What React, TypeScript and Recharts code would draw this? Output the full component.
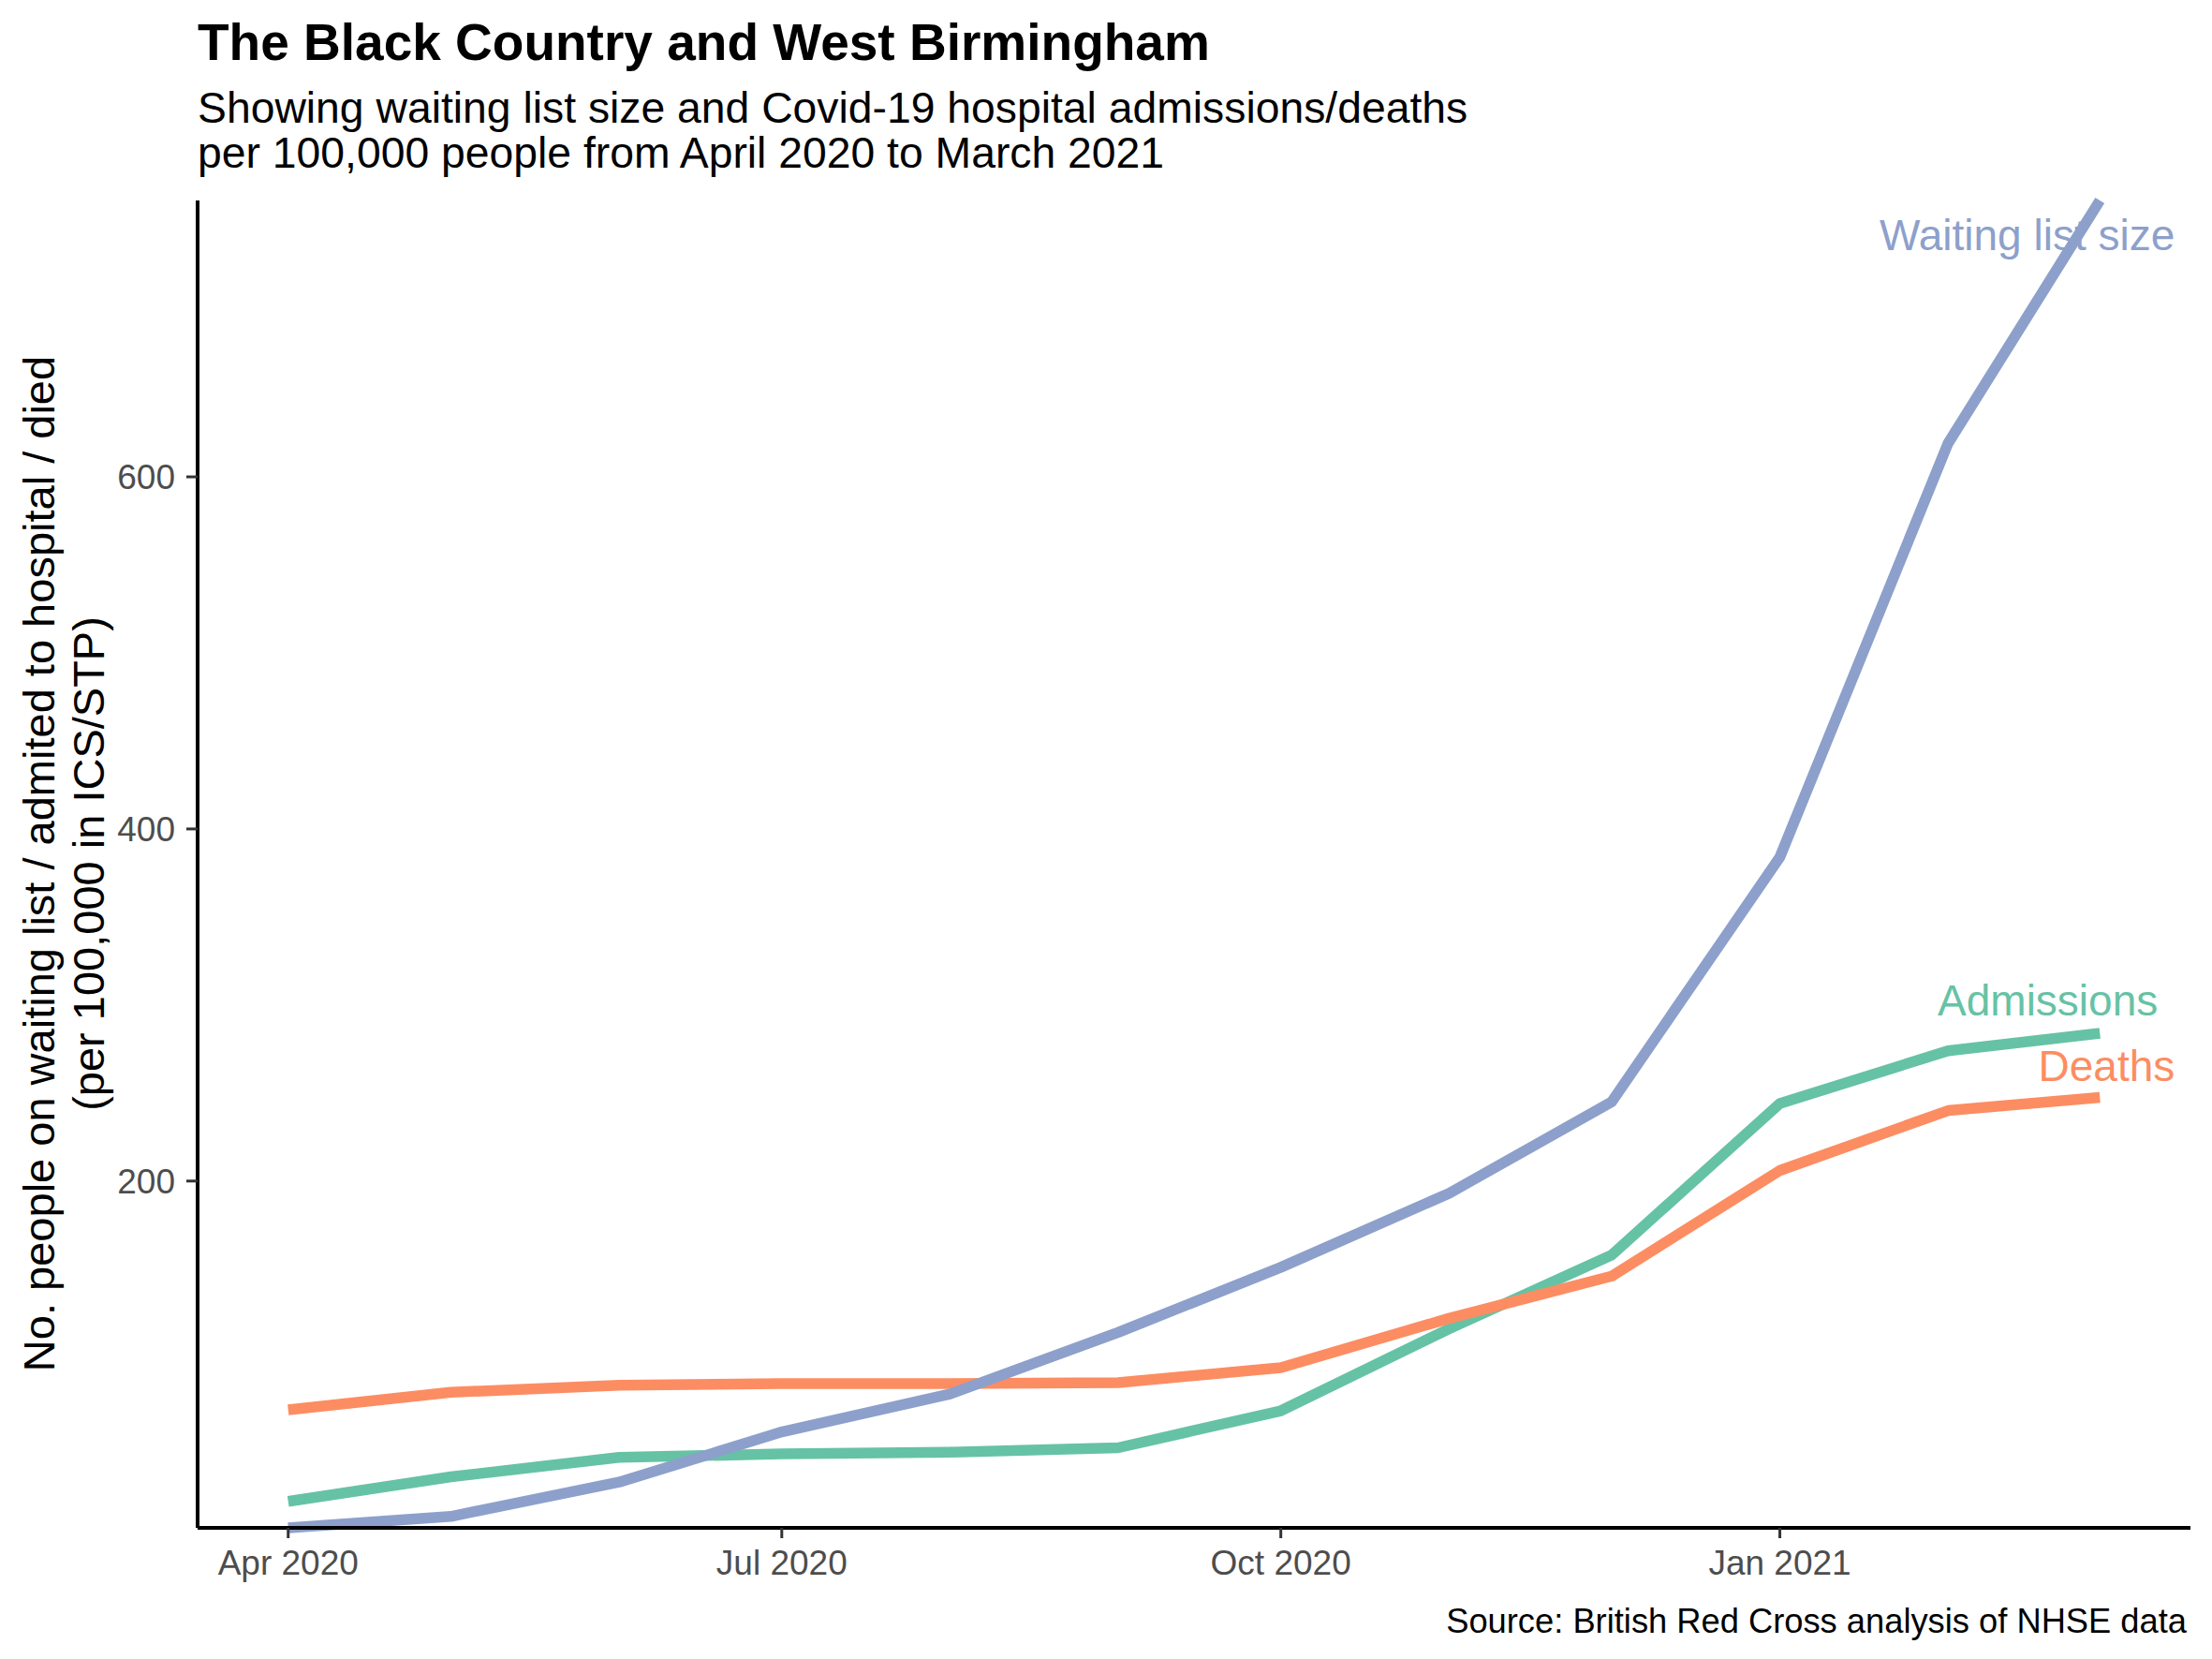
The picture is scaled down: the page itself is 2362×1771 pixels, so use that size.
import React from 'react'
import { LineChart, Line, XAxis, YAxis, LabelList } from 'recharts'

// monthly points, first of each month
const months = [
  '2020-04-01', '2020-05-01', '2020-06-01', '2020-07-01', '2020-08-01', '2020-09-01',
  '2020-10-01', '2020-11-01', '2020-12-01', '2021-01-01', '2021-02-01', '2021-03-01',
]
const waitingList = [3, 9.5, 29, 57.5, 79, 114, 151, 193, 245, 384, 619, 757]
const admissions = [18, 32, 43, 45, 46, 48.5, 69.5, 116, 158, 244, 274, 284]
const deaths = [70, 80, 84, 85, 85, 85.5, 94, 122, 146, 206, 240, 247.5]

const tickDates = ['2020-04-01', '2020-07-01', '2020-10-01', '2021-01-01']
const tickLabels = ['Apr 2020', 'Jul 2020', 'Oct 2020', 'Jan 2021']
const yTicks = [200, 400, 600]

const FONT = '"Liberation Sans", Arial, sans-serif'
const GREEN = '#66C2A5'
const ORANGE = '#FC8D62'
const BLUE = '#8DA0CB'

const DAY = 86400000
const toDay = (d: string) => Math.round((Date.parse(d) - Date.parse(months[0])) / DAY)

const data = months.map((m, i) => ({
  day: toDay(m),
  waiting: waitingList[i],
  admissions: admissions[i],
  deaths: deaths[i],
}))

const span = toDay(months[months.length - 1])
const xDomain = [-span * 0.05, span * 1.05]
const xTicks = tickDates.map(toDay)

// label only the last point of a series
const endLabel = (text: string, color: string, dx: number, dy: number) => (props: any) => {
  if (props.index !== months.length - 1) return null
  const x = props.x ?? props.viewBox?.x
  const y = props.y ?? props.viewBox?.y
  return (
    <text x={x + dx} y={y + dy} textAnchor="end" fill={color} fontSize={46} fontFamily={FONT}>
      {text}
    </text>
  )
}

export default function App() {
  return (
    <div style={{ position: 'absolute', left: 0, top: 0, width: 2362, height: 1771, background: '#fff' }}>
      <LineChart
        width={2362}
        height={1771}
        data={data}
        margin={{ top: 214, right: 23, left: 111, bottom: 80 }}
      >
        <XAxis
          dataKey="day"
          type="number"
          domain={xDomain}
          ticks={xTicks}
          tickFormatter={(v: number) => tickLabels[xTicks.indexOf(v)]}
          height={60}
          axisLine={{ stroke: '#000', strokeWidth: 4 }}
          tickLine={{ stroke: '#333', strokeWidth: 3 }}
          tickSize={11}
          tickMargin={13}
          tick={{ fontSize: 37, fill: '#4D4D4D', fontFamily: FONT }}
          allowDataOverflow
        />
        <YAxis
          type="number"
          domain={['dataMin', 'dataMax']}
          ticks={yTicks}
          width={100}
          axisLine={{ stroke: '#000', strokeWidth: 4 }}
          tickLine={{ stroke: '#333', strokeWidth: 3 }}
          tickSize={12}
          tickMargin={12}
          tick={{ fontSize: 37, fill: '#4D4D4D', fontFamily: FONT }}
        />
        <Line
          dataKey="admissions"
          stroke={GREEN}
          strokeWidth={11.5}
          strokeLinecap="butt"
          strokeLinejoin="round"
          dot={false}
          activeDot={false}
          isAnimationActive={false}
        >
          <LabelList dataKey="admissions" content={endLabel('Admissions', GREEN, 62, -19)} />
        </Line>
        <Line
          dataKey="deaths"
          stroke={ORANGE}
          strokeWidth={11.5}
          strokeLinecap="butt"
          strokeLinejoin="round"
          dot={false}
          activeDot={false}
          isAnimationActive={false}
        >
          <LabelList dataKey="deaths" content={endLabel('Deaths', ORANGE, 80, -18)} />
        </Line>
        <Line
          dataKey="waiting"
          stroke={BLUE}
          strokeWidth={11.5}
          strokeLinecap="butt"
          strokeLinejoin="round"
          dot={false}
          activeDot={false}
          isAnimationActive={false}
        >
          <LabelList dataKey="waiting" content={endLabel('Waiting list size', BLUE, 80, 53)} />
        </Line>
      </LineChart>

      <svg
        width={2362}
        height={1771}
        style={{ position: 'absolute', left: 0, top: 0, pointerEvents: 'none' }}
        fontFamily={FONT}
      >
        <text x={211} y={64} fontSize={55} fontWeight="bold" fill="#000">
          The Black Country and West Birmingham
        </text>
        <text x={211} y={131} fontSize={46.3} fill="#000">
          Showing waiting list size and Covid-19 hospital admissions/deaths
        </text>
        <text x={211} y={179} fontSize={46.3} fill="#000">
          per 100,000 people from April 2020 to March 2021
        </text>
        <text x={58} y={922} fontSize={47} fill="#000" textAnchor="middle" transform="rotate(-90 58 922)">
          No. people on waiting list / admited to hospital / died
        </text>
        <text x={111} y={922} fontSize={47} fill="#000" textAnchor="middle" transform="rotate(-90 111 922)">
          (per 100,000 in ICS/STP)
        </text>
        <text x={2335} y={1743} fontSize={36.3} fill="#000" textAnchor="end">
          Source: British Red Cross analysis of NHSE data
        </text>
      </svg>
    </div>
  )
}
